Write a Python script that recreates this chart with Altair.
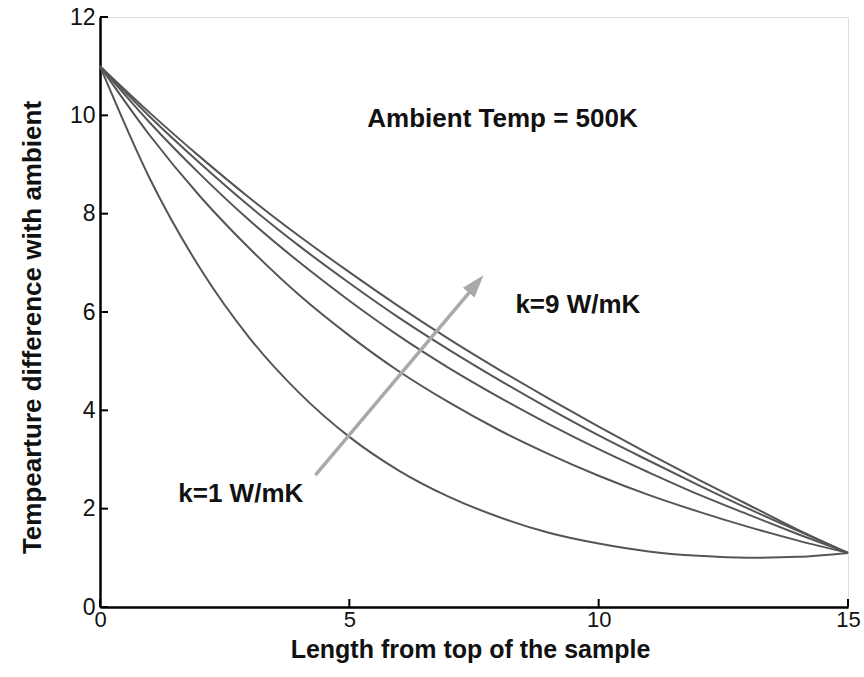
import altair as alt
import pandas as pd

# ---- data ----
x_vals = list(range(16))
k1 = [11.00, 8.71, 6.90, 5.47, 4.35, 3.46, 2.77, 2.24, 1.83, 1.51, 1.29, 1.13, 1.04, 1.00, 1.02, 1.10]
k3 = [11.00, 9.59, 8.36, 7.29, 6.34, 5.52, 4.79, 4.16, 3.60, 3.11, 2.67, 2.28, 1.94, 1.63, 1.35, 1.10]
k5 = [11.00, 9.85, 8.81, 7.86, 7.01, 6.23, 5.51, 4.86, 4.27, 3.72, 3.21, 2.74, 2.29, 1.88, 1.48, 1.10]
k7 = [11.00, 9.97, 9.03, 8.15, 7.34, 6.59, 5.88, 5.23, 4.62, 4.04, 3.49, 2.98, 2.48, 2.00, 1.55, 1.10]
k9 = [11.00, 10.05, 9.16, 8.32, 7.54, 6.81, 6.11, 5.45, 4.83, 4.24, 3.67, 3.12, 2.59, 2.08, 1.57, 1.10]
series_names = ["k=1", "k=3", "k=5", "k=7", "k=9"]

x_ticks = [0, 5, 10, 15]
y_ticks = [0, 2, 4, 6, 8, 10, 12]

arrow_x = [4.32, 7.50]
arrow_y = [2.68, 6.51]
tip_x = [7.69]
tip_y = [6.75]

ann_text = ["Ambient Temp = 500K", "k=9 W/mK", "k=1 W/mK"]
ann_x = [5.36, 8.33, 1.57]
ann_y = [9.76, 5.98, 2.13]

# ---- tables ----
rows = []
for name, ys in zip(series_names, [k1, k3, k5, k7, k9]):
    for xv, yv in zip(x_vals, ys):
        rows.append({"k": name, "x": xv, "y": yv})
df = pd.DataFrame(rows)
arrow_df = pd.DataFrame({"x": arrow_x, "y": arrow_y})
tip_df = pd.DataFrame({"x": tip_x, "y": tip_y})
ann_df = pd.DataFrame({"t": ann_text, "x": ann_x, "y": ann_y})
xt_df = pd.DataFrame({"x": x_ticks})
yt_df = pd.DataFrame({"y": y_ticks})

W, H = 748, 590
FONT = "Liberation Sans"
xs = alt.Scale(domain=[0, 15], nice=False, zero=False)
ys_ = alt.Scale(domain=[0, 12], nice=False, zero=False)

x_axis = alt.Axis(
    values=x_ticks, ticks=False, tickSize=0, grid=False, domainColor="black",
    domainWidth=2.5, labelFontSize=22, labelFont=FONT, labelColor="#111",
    labelPadding=2, labelFlush=False,
    title="Length from top of the sample", titleFontSize=25, titleFont=FONT,
    titleFontWeight="bold", titleColor="#111", titleX=370, titleY=50,
    titleAlign="center", titleBaseline="alphabetic",
)
y_axis = alt.Axis(
    values=y_ticks, ticks=False, tickSize=0, grid=False, domainColor="black",
    domainWidth=2.5, labelFontSize=23, labelFont=FONT, labelColor="#111",
    labelPadding=5, labelFlush=False,
    title="Tempearture difference with ambient", titleFontSize=26, titleFont=FONT,
    titleFontWeight="bold", titleColor="#111", titleX=-60, titleY=310,
    titleAngle=270, titleAlign="center", titleBaseline="alphabetic",
)

X = alt.X("x:Q", scale=xs, axis=x_axis)
Y = alt.Y("y:Q", scale=ys_, axis=y_axis)

lines = alt.Chart(df).mark_line(color="#555555", strokeWidth=2, interpolate="monotone").encode(
    x=X, y=Y, detail="k:N",
)

shaft = alt.Chart(arrow_df).mark_line(color="#a9a9a9", strokeWidth=3.5).encode(x=X, y=Y)
head = alt.Chart(tip_df).mark_point(
    shape="M0,0L0.6,1.8L-0.6,1.8Z", filled=True, color="#a9a9a9", opacity=1,
    size=650, angle=40, strokeWidth=0,
).encode(x=X, y=Y)

labels = alt.Chart(ann_df).mark_text(
    align="left", baseline="alphabetic", font=FONT, fontSize=26,
    fontWeight="bold", color="#111",
).encode(x=X, y=Y, text="t:N")

xticks_layer = alt.Chart(xt_df).mark_rule(color="black", strokeWidth=2).encode(
    x=X, y=alt.value(H), y2=alt.value(H - 8),
)
yticks_layer = alt.Chart(yt_df).mark_rule(color="black", strokeWidth=2).encode(
    y=Y, x=alt.value(0), x2=alt.value(8),
)

chart = alt.layer(
    lines, shaft, head, labels, xticks_layer, yticks_layer
).properties(
    width=W, height=H,
    autosize=alt.AutoSizeParams(type="none"),
    padding={"left": 100, "top": 17, "right": 16, "bottom": 70},
).configure_view(stroke=None).configure(background="white")

chart.save("out.html", embed_options={"renderer": "svg", "actions": False})
